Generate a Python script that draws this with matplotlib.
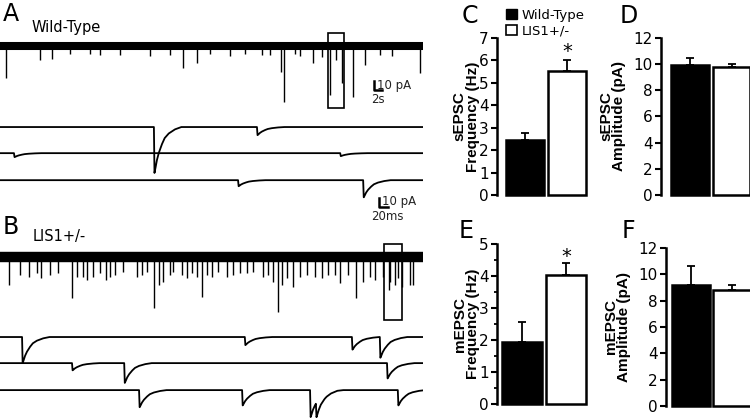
import numpy as np
import matplotlib
matplotlib.use("Agg")
import matplotlib.pyplot as plt
from matplotlib.patches import Rectangle, Patch

plt.rcParams["font.family"] = ["DejaVu Sans"]

FIG_W, FIG_H = 750, 418

# ---------- long recordings: spike time (s) and amplitude (pA, downward) ----------
LONG_DUR_S = 105.75
WT_SPIKE_S = [1.5, 10, 13, 17.5, 22.5, 25, 30, 37.5, 42.5, 45.75, 49.25, 52.5, 57.5, 61.25,
              65.5, 67.5, 70.25, 71, 73.75, 75, 78.25, 80.5, 82.5, 84, 85.5, 88.25, 91.25,
              95, 98, 105]
WT_SPIKE_PA = [32, 14, 13, 8, 8, 9, 9, 10, 9, 22, 17, 8, 10, 8,
               9, 9, 26, 56, 8, 10, 17, 11, 49, 14, 37, 51, 19,
               9, 10, 27]
LIS_SPIKE_S = [2.3, 5.0, 7.3, 9.2, 10.2, 12.5, 14.6, 17.9, 19.3, 20.8, 21.8, 23.3, 25, 26.5,
               27.5, 28.75, 30.7, 34.2, 35.4, 36.7, 38.5, 39.8, 40.8, 42.5, 43.3, 45.4, 46.7,
               47.9, 49.2, 50.4, 51.7, 52.9, 54.6, 56.7, 58.3, 60, 61.7, 63.3, 65.8, 67.1,
               68.3, 69.4, 70.4, 71.7, 73.3, 75, 76.7, 78.75, 80.4, 82.1, 83.75, 85, 87.1,
               89, 90.8, 92.5, 93.75, 95.8, 97.2, 97.5, 98.75, 99.6, 100.5, 102.5, 103.3]
LIS_SPIKE_PA = [28, 18, 20, 16, 21, 18, 16, 41, 20, 20, 23, 20, 16, 23,
                20, 18, 15, 20, 18, 15, 51, 28, 25, 18, 15, 18, 21,
                16, 20, 40, 18, 20, 15, 20, 18, 16, 16, 15, 20, 18,
                25, 55, 28, 21, 30, 20, 18, 20, 21, 18, 18, 26, 18,
                41, 25, 20, 23, 20, 33, 25, 28, 21, 30, 28, 28]
# zoom boxes: start s, end s, top pA, bottom pA
WT_BOX = (82.0, 86.0, 13, -62)
LIS_BOX = (96.0, 100.5, 13, -63)

# ---------- expanded sweeps: event onset (ms) and amplitude (pA) per sweep ----------
SWEEP_DUR_MS = 940
SWEEP_OFFSET_PA = [0, -29, -59]
WT_SWEEP_MS = [[342, 571], [31, 756], [529, 807]]
WT_SWEEP_PA = [[51, 9], [4.4, 3.3], [6.7, 19]]
LIS_SWEEP_MS = [[49, 544, 782, 844], [160, 276, 860], [309, 538, 689, 702, 884]]
LIS_SWEEP_PA = [[29, 9, 14, 23], [8, 22, 17], [19, 17, 30, 16, 17]]

# EPSC waveform (ms after onset, fraction of peak)
KERNEL_MS = [0, 1.3, 3.7, 6.7, 11, 18, 24, 33, 47, 61]
KERNEL_FRAC = [0, 1, 0.88, 0.72, 0.56, 0.37, 0.24, 0.14, 0.05, 0]

# ---------- bar panels ----------
GROUPS = ["Wild-Type", "LIS1+/-"]
SEPSC_FREQ = [2.45, 5.55]
SEPSC_FREQ_SEM = [0.3, 0.45]
SEPSC_AMP = [9.9, 9.75]
SEPSC_AMP_SEM = [0.6, 0.3]
MEPSC_FREQ = [1.95, 4.02]
MEPSC_FREQ_SEM = [0.62, 0.38]
MEPSC_AMP = [9.2, 8.8]
MEPSC_AMP_SEM = [1.45, 0.4]


def px_axes(fig, x0, y0, x1, y1):
    return fig.add_axes([x0 / FIG_W, 1 - y1 / FIG_H, (x1 - x0) / FIG_W, (y1 - y0) / FIG_H])


def long_trace(ax, spike_s, spike_pa, box, band_lw, ylim):
    ax.plot([0, LONG_DUR_S], [0, 0], color="black", lw=band_lw, solid_capstyle="butt")
    ax.vlines(spike_s, -np.asarray(spike_pa, float), 0, color="black", lw=1.0)
    t0, t1, top, bot = box
    ax.add_patch(Rectangle((t0, bot), t1 - t0, top - bot, fill=False, ec="black", lw=1.2))
    ax.set_xlim(0, LONG_DUR_S)
    ax.set_ylim(*ylim)
    ax.axis("off")


def sweep(ev_ms, ev_pa):
    ev_ms = np.asarray(ev_ms, float)
    k = np.asarray(KERNEL_MS, float)
    pts = np.concatenate([[0, SWEEP_DUR_MS], (ev_ms[:, None] + k[None, :]).ravel()])
    pts = np.unique(np.clip(pts, 0, SWEEP_DUR_MS))
    y = np.zeros_like(pts)
    for t0, a in zip(ev_ms, ev_pa):
        y -= a * np.interp(pts - t0, k, KERNEL_FRAC, left=0, right=0)
    return pts, y


def sweep_panel(ax, ev_ms, ev_pa, ylim):
    for times, amps, off in zip(ev_ms, ev_pa, SWEEP_OFFSET_PA):
        t, y = sweep(times, amps)
        ax.plot(t, y + off, color="black", lw=1.3)
    ax.set_xlim(0, SWEEP_DUR_MS)
    ax.set_ylim(*ylim)
    ax.axis("off")


def bar_panel(ax, vals, sem, ymax, step, ylabel, xlim, width, labelpad, star=None, minor=None):
    x = np.arange(len(vals))
    ax.errorbar(x, vals, yerr=[[0] * len(vals), sem], fmt="none", ecolor="black",
                elinewidth=1.3, capsize=3, capthick=1.3, zorder=1)
    ax.bar(x, vals, width, color=["black", "white"], edgecolor="black", lw=1.8,
           zorder=2, clip_on=False)
    if star is not None:
        ax.text(1, star, "*", ha="center", va="center", fontsize=14)
    ax.set_xlim(*xlim)
    ax.set_ylim(0, ymax)
    ax.set_yticks(np.arange(0, ymax + 0.01, step))
    if minor:
        ax.set_yticks(np.arange(0, ymax + 0.01, minor), minor=True)
        ax.tick_params(axis="y", which="minor", length=2.5, width=1.3)
    ax.set_xticks([])
    for s in ["top", "right", "bottom"]:
        ax.spines[s].set_visible(False)
    ax.spines["left"].set_linewidth(1.8)
    ax.tick_params(axis="y", which="major", length=4, width=1.5, labelsize=11, pad=2)
    ax.set_ylabel(ylabel, fontsize=11, fontweight="bold", family=["Liberation Sans"],
                  linespacing=0.95, labelpad=labelpad)
    ax.patch.set_visible(False)


fig = plt.figure(figsize=(FIG_W / 100, FIG_H / 100), dpi=100)

# ---------- A: wild-type ----------
axA = px_axes(fig, 0, 28, 423, 112)
long_trace(axA, WT_SPIKE_S, WT_SPIKE_PA, WT_BOX, 5.8, (-66, 18))
axA.plot([93.5, 93.5, 95.5], [-35, -44, -44], color="black", lw=1.8, clip_on=False)
axA.text(94.3, -39.5, "10 pA", fontsize=8.5, va="center", ha="left", color="#222222")
axA.text(94.5, -47, "2s", fontsize=8.5, va="top", ha="center", color="#222222")

axA2 = px_axes(fig, 0, 112, 423, 218)
sweep_panel(axA2, WT_SWEEP_MS, WT_SWEEP_PA, (-101, 16.7))
axA2.plot([842, 842, 862], [-79, -89, -89], color="black", lw=1.8, clip_on=False)
axA2.text(850, -83, "10 pA", fontsize=8.5, va="center", ha="left", color="#222222")
axA2.text(860, -92, "20ms", fontsize=8.5, va="top", ha="center", color="#222222")

# ---------- B: LIS1+/- ----------
axB = px_axes(fig, 0, 238, 423, 325)
long_trace(axB, LIS_SPIKE_S, LIS_SPIKE_PA, LIS_BOX, 7.5, (-68, 19))

axB2 = px_axes(fig, 0, 322, 423, 418)
sweep_panel(axB2, LIS_SWEEP_MS, LIS_SWEEP_PA, (-90, 16.7))

# ---------- C-F: bar charts ----------
axC = px_axes(fig, 497, 38, 590, 195)
bar_panel(axC, SEPSC_FREQ, SEPSC_FREQ_SEM, 7, 1, "sEPSC\nFrequency (Hz)",
          (-0.667, 1.55), 0.905, -1, star=6.4)
axD = px_axes(fig, 661, 38, 750, 195)
bar_panel(axD, SEPSC_AMP, SEPSC_AMP_SEM, 12, 2, "sEPSC\nAmplitude (pA)",
          (-0.70, 1.446), 0.915, 5)
axE = px_axes(fig, 497, 244, 590, 404)
bar_panel(axE, MEPSC_FREQ, MEPSC_FREQ_SEM, 5, 1, "mEPSC\nFrequency (Hz)",
          (-0.57, 1.55), 0.91, -1, star=4.6, minor=0.5)
axF = px_axes(fig, 666, 248, 750, 406)
bar_panel(axF, MEPSC_AMP, MEPSC_AMP_SEM, 12, 2, "mEPSC\nAmplitude (pA)",
          (-0.60, 1.45), 0.93, 5)

fig.legend(handles=[Patch(fc="black", ec="black"), Patch(fc="white", ec="black", lw=1.2)],
           labels=GROUPS, loc="upper left", bbox_to_anchor=(506 / FIG_W, 1 - 9 / FIG_H),
           frameon=False, fontsize=9.5, handlelength=0.8, handleheight=0.8,
           handletextpad=0.4, labelspacing=0.2, borderpad=0, borderaxespad=0)

# panel letters and group names
for letter, x, y in [("A", 3, 2), ("B", 3, 215), ("C", 462, 4), ("D", 620, 4),
                     ("E", 459, 219), ("F", 622, 219)]:
    fig.text(x / FIG_W, 1 - y / FIG_H, letter, fontsize=17, va="top", ha="left")
fig.text(32 / FIG_W, 1 - 20 / FIG_H, "Wild-Type", fontsize=10.5, va="top", ha="left")
fig.text(33 / FIG_W, 1 - 229 / FIG_H, "LIS1+/-", fontsize=10.5, va="top", ha="left")

fig.savefig("out.png", dpi=100)
